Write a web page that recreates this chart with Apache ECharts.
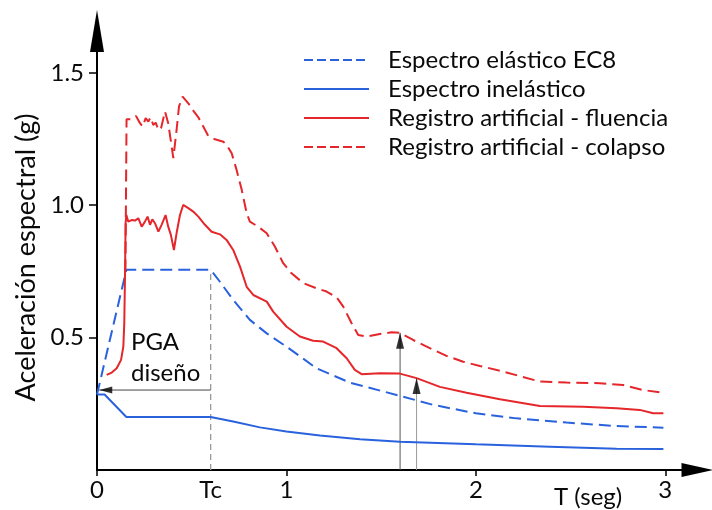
<!DOCTYPE html>
<html>
<head>
<meta charset="utf-8">
<script src="https://cdn.jsdelivr.net/npm/echarts@6/dist/echarts.min.js"></script>
<style>
  html, body { margin: 0; padding: 0; background: #fff; }
  #chart { width: 712px; height: 510px; }
</style>
</head>
<body>
<div id="chart"></div>
<script>
// Periods (s) and spectral accelerations (g)
const Tc = 0.6;

const elasticT = [0, 0.155, 0.6, 0.649, 0.719, 0.807, 0.896, 1.0, 1.159, 1.335, 1.599, 1.775, 2.0, 2.215, 2.479, 2.743, 2.99];
const elasticSa = [0.285, 0.756, 0.756, 0.711, 0.642, 0.567, 0.516, 0.466, 0.384, 0.330, 0.280, 0.246, 0.214, 0.195, 0.179, 0.166, 0.160];

const inelasticT = [0, 0.04, 0.155, 0.6, 0.719, 0.86, 1.0, 1.177, 1.388, 1.599, 2.0, 2.391, 2.743, 2.99];
const inelasticSa = [0.285, 0.285, 0.2, 0.2, 0.183, 0.161, 0.145, 0.130, 0.116, 0.107, 0.097, 0.088, 0.080, 0.079];

const yieldT = [0.051, 0.078, 0.104, 0.127, 0.139, 0.144, 0.148, 0.151, 0.155, 0.165, 0.183, 0.201, 0.218, 0.236,
  0.253, 0.267, 0.280, 0.292, 0.306, 0.324, 0.341, 0.362, 0.376, 0.390, 0.406, 0.420, 0.438, 0.455, 0.482, 0.508,
  0.535, 0.570, 0.605, 0.649, 0.684, 0.719, 0.755, 0.790, 0.825, 0.896, 0.930, 1.001, 1.071, 1.141, 1.194, 1.265,
  1.318, 1.361, 1.397, 1.493, 1.599, 1.687, 1.810, 1.951, 2.127, 2.338, 2.567, 2.743, 2.865, 2.936, 2.990];
const yieldSa = [0.359, 0.368, 0.384, 0.416, 0.466, 0.554, 0.743, 0.932, 0.963, 0.938, 0.944, 0.942, 0.951, 0.919,
  0.938, 0.957, 0.926, 0.947, 0.932, 0.900, 0.926, 0.963, 0.919, 0.888, 0.831, 0.894, 0.963, 1.001, 0.989, 0.976,
  0.957, 0.926, 0.900, 0.890, 0.869, 0.831, 0.768, 0.692, 0.661, 0.636, 0.598, 0.541, 0.504, 0.488, 0.485, 0.460,
  0.422, 0.378, 0.362, 0.365, 0.364, 0.347, 0.314, 0.292, 0.267, 0.242, 0.239, 0.233, 0.227, 0.214, 0.214];

const collapseT = [0.150, 0.156, 0.183, 0.206, 0.227, 0.241, 0.257, 0.271, 0.283, 0.297, 0.310, 0.324, 0.338, 0.359,
  0.376, 0.403, 0.420, 0.433, 0.452, 0.482, 0.508, 0.535, 0.561, 0.587, 0.623, 0.667, 0.684, 0.711, 0.737, 0.764,
  0.790, 0.807, 0.851, 0.896, 0.939, 0.983, 1.027, 1.089, 1.159, 1.212, 1.265, 1.300, 1.344, 1.379, 1.423, 1.493,
  1.555, 1.599, 1.669, 1.757, 1.845, 1.933, 2.021, 2.127, 2.338, 2.479, 2.654, 2.777, 2.883, 2.988];
const collapseSa = [0.75, 1.325, 1.325, 1.337, 1.310, 1.297, 1.329, 1.316, 1.332, 1.303, 1.312, 1.284, 1.291, 1.354,
  1.310, 1.178, 1.284, 1.373, 1.410, 1.385, 1.357, 1.332, 1.297, 1.262, 1.249, 1.240, 1.228, 1.196, 1.133, 1.058,
  0.970, 0.938, 0.919, 0.894, 0.844, 0.781, 0.743, 0.706, 0.686, 0.674, 0.652, 0.617, 0.554, 0.510, 0.504, 0.514,
  0.520, 0.518, 0.491, 0.460, 0.431, 0.409, 0.393, 0.375, 0.334, 0.330, 0.328, 0.321, 0.302, 0.292];

// Design PGA pointer and the two scaling arrows (period, tip value)
const pgaLevel = 0.302;
const pgaFromT = Tc;
const pgaToT = 0.012;
const arrowT = [1.6, 1.687];
const arrowTip = [0.518, 0.347];

const xLabelValues = [0, Tc, 1, 2, 3];
const yLabelValues = [0.5, 1.0, 1.5];

const seriesNames = ['Espectro elástico EC8', 'Espectro inelástico', 'Registro artificial - fluencia', 'Registro artificial - colapso'];
const seriesDashed = [true, false, false, true];

const BLUE = '#2a62dd';
const RED = '#e5262a';
const INK = '#0a0a0a';
const FONT = 'Lato';
const FS = 24;

const zip = (xs, ys) => xs.map((x, i) => [x, ys[i]]);

const curve = (name, xs, ys, color, dashed) => ({
  name, type: 'line', data: zip(xs, ys), symbol: 'none', silent: true,
  lineStyle: { color, width: 2, type: dashed ? [12, 6] : 'solid' },
  itemStyle: { color }, z: 3
});

const chart = echarts.init(document.getElementById('chart'), null, { renderer: 'canvas' });

chart.setOption({
  animation: false,
  backgroundColor: '#fff',
  textStyle: { fontFamily: FONT },
  grid: { left: 97, right: 14.5, top: 31, bottom: 40, containLabel: false, outerBoundsMode: 'none' },
  legend: {
    data: seriesNames.map((name, i) => ({
      name,
      lineStyle: { type: seriesDashed[i] ? [9, 4] : 'solid' }
    })),
    orient: 'vertical',
    left: 298, top: 43,
    itemWidth: 65, itemHeight: 2, itemGap: 5,
    itemStyle: { opacity: 0 },
    textStyle: { fontSize: FS, color: INK, fontFamily: FONT, padding: [0, 0, 0, 14] },
    selectedMode: false
  },
  xAxis: {
    type: 'value', min: 0, max: 3.17,
    splitLine: { show: false },
    axisLine: { show: true, onZero: false, lineStyle: { color: '#000', width: 2 },
      symbol: ['none', 'triangle'], symbolSize: [14, 32] },
    axisTick: { show: true, customValues: [0, 1, 2, 3], length: 6, lineStyle: { color: '#000', width: 1.5 } },
    axisLabel: { customValues: xLabelValues, fontSize: FS, color: INK, margin: 8, fontFamily: FONT,
      formatter: v => (Math.abs(v - Tc) < 1e-9 ? 'Tc' : String(v)) }
  },
  yAxis: {
    type: 'value', min: 0, max: 1.658,
    splitLine: { show: false },
    axisLine: { show: true, lineStyle: { color: '#000', width: 2 },
      symbol: ['none', 'triangle'], symbolSize: [14, 42] },
    axisTick: { show: true, customValues: yLabelValues, length: 8, lineStyle: { color: '#000', width: 1.5 } },
    axisLabel: { customValues: yLabelValues, fontSize: FS, color: INK, margin: 13, fontFamily: FONT,
      formatter: v => v.toFixed(1) },
    name: 'Aceleración espectral (g)',
    nameLocation: 'middle', nameRotate: 90, nameGap: 51,
    nameTextStyle: { fontSize: 27, color: INK, fontFamily: FONT, padding: [0, 14, 0, 0] }
  },
  title: [{
    text: 'T (seg)', left: 549, top: 480,
    textStyle: { fontSize: FS, fontWeight: 'normal', color: INK, fontFamily: FONT }
  }],
  graphic: [{
    type: 'text', left: 131, top: 327, silent: true,
    style: { text: 'PGA\ndiseño', fontSize: FS, lineHeight: 31, fill: INK, fontFamily: FONT }
  }],
  series: [
    curve(seriesNames[0], elasticT, elasticSa, BLUE, seriesDashed[0]),
    curve(seriesNames[1], inelasticT, inelasticSa, BLUE, seriesDashed[1]),
    curve(seriesNames[2], yieldT, yieldSa, RED, seriesDashed[2]),
    curve(seriesNames[3], collapseT, collapseSa, RED, seriesDashed[3]),
    // corner period guide
    { type: 'line', silent: true, symbol: 'none', z: 2,
      data: [[Tc, 0], [Tc, elasticSa[2]]],
      lineStyle: { color: '#9a9a9a', width: 1.3, type: [6, 4] } },
    // design PGA pointer
    { type: 'line', silent: true, symbol: 'none', z: 2,
      data: [[pgaFromT, pgaLevel], [pgaToT, pgaLevel]],
      lineStyle: { color: '#444', width: 1 } },
    { type: 'scatter', silent: true, z: 4, symbol: 'triangle', symbolSize: [7, 13], symbolRotate: 90,
      symbolOffset: [6.5, 0], itemStyle: { color: '#000' },
      data: [[pgaToT, pgaLevel]] },
    // scaling arrows
    { type: 'line', silent: true, symbol: 'none', z: 2,
      data: [[arrowT[0], 0], [arrowT[0], arrowTip[0]]],
      lineStyle: { color: '#555', width: 1 } },
    { type: 'line', silent: true, symbol: 'none', z: 2,
      data: [[arrowT[1], 0], [arrowT[1], arrowTip[1]]],
      lineStyle: { color: '#999', width: 1 } },
    { type: 'scatter', silent: true, z: 4, symbol: 'triangle', symbolSize: [8, 16],
      symbolOffset: [0, 8], itemStyle: { color: '#000' },
      data: zip(arrowT, arrowTip) }
  ]
});
</script>
</body>
</html>
